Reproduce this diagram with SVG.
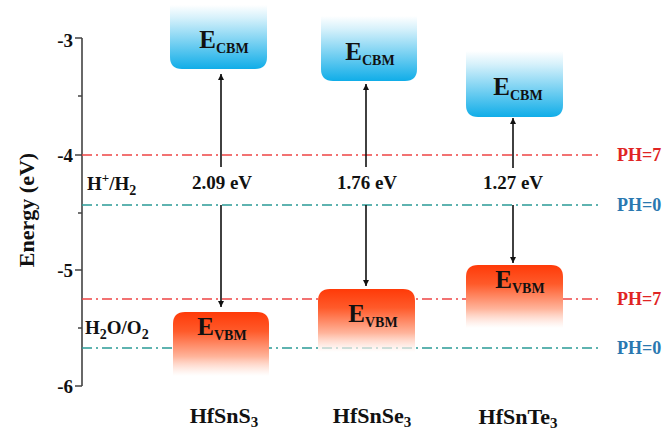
<svg xmlns="http://www.w3.org/2000/svg" width="667" height="434" viewBox="0 0 667 434">
<style>
text{font-family:"Liberation Serif","Times New Roman",serif;font-weight:bold;fill:#111}
.tick{font-size:19px;text-anchor:end}
.lbl{font-size:19px;text-anchor:middle}
.mat{font-size:22px;text-anchor:middle}
.band{font-size:25px;text-anchor:middle}
.sub{font-size:14px}
.red{stroke:#ee4444;stroke-width:1.6;stroke-dasharray:10 4 2 4;fill:none}
.teal{stroke:#2a9a96;stroke-width:1.6;stroke-dasharray:10 4 2 4;fill:none}
.arr{stroke:#111;stroke-width:1.6;fill:none}
</style>
<defs>
<linearGradient id="gc" x1="0" y1="0" x2="0" y2="1">
<stop offset="0" stop-color="#ffffff"/>
<stop offset="0.2" stop-color="#d6f1fb"/>
<stop offset="1" stop-color="#10ade8"/>
</linearGradient>
<linearGradient id="gv" x1="0" y1="0" x2="0" y2="1">
<stop offset="0" stop-color="#ff3a08"/>
<stop offset="0.3" stop-color="#ff5a2a"/>
<stop offset="0.7" stop-color="#ffb59c"/>
<stop offset="1" stop-color="#ffffff" stop-opacity="0.6"/>
</linearGradient>
<marker id="ah" viewBox="0 0 10 10" refX="10" refY="5" markerWidth="6" markerHeight="6" markerUnits="userSpaceOnUse" orient="auto">
<path d="M0,0 L10,5 L0,10 Z" fill="#111"/>
</marker>
</defs>
<rect width="667" height="434" fill="#ffffff"/>

<g id="axis">
<path d="M82,38 V386 M75,38 H82 M75,155 H82 M75,270 H82 M75,386 H82 M78,96 H82 M78,213 H82 M78,328 H82" stroke="#444" stroke-width="1.6" fill="none"/>
<text class="tick" x="73" y="47">-3</text>
<text class="tick" x="73" y="162">-4</text>
<text class="tick" x="73" y="277">-5</text>
<text class="tick" x="73" y="393">-6</text>
<text x="34" y="210" font-size="22" text-anchor="middle" transform="rotate(-90 34 210)">Energy (eV)</text>
</g>

<g id="levels">
<path class="red" d="M82,155 H600"/>
<path class="teal" d="M82,205 H600"/>
<path class="red" d="M82,299 H600"/>
<path class="teal" d="M82,348 H600"/>
<text x="617" y="161" font-size="18" style="fill:#e02424">PH=7</text>
<text x="617" y="211" font-size="18" style="fill:#2a78b0">PH=0</text>
<text x="617" y="305" font-size="18" style="fill:#e02424">PH=7</text>
<text x="617" y="354" font-size="18" style="fill:#2a78b0">PH=0</text>
<text x="87" y="190" font-size="19">H<tspan font-size="13" dy="-8">+</tspan><tspan dy="8">/H</tspan><tspan font-size="14" dy="5">2</tspan></text>
<text x="85" y="334" font-size="19">H<tspan font-size="14" dy="5">2</tspan><tspan dy="-5">O/O</tspan><tspan font-size="14" dy="5">2</tspan></text>
</g>

<g id="cbm1">
<path d="M170,5 H267 V57 Q267,69 255,69 H182 Q170,69 170,57 Z" fill="url(#gc)"/>
<text class="band" x="224" y="48">E<tspan class="sub" dy="5">CBM</tspan></text>
</g>
<g id="cbm2">
<path d="M321,16 H417 V69 Q417,81 405,81 H333 Q321,81 321,69 Z" fill="url(#gc)"/>
<text class="band" x="370" y="60">E<tspan class="sub" dy="5">CBM</tspan></text>
</g>
<g id="cbm3">
<path d="M466,51 H563 V105 Q563,117 551,117 H478 Q466,117 466,105 Z" fill="url(#gc)"/>
<text class="band" x="518" y="95">E<tspan class="sub" dy="5">CBM</tspan></text>
</g>

<g id="vbm1">
<path d="M173,376 V324 Q173,312 185,312 H257 Q269,312 269,324 V376 Z" fill="url(#gv)"/>
<text class="band" x="222" y="335">E<tspan class="sub" dy="5">VBM</tspan></text>
</g>
<g id="vbm2">
<path d="M318,352 V301 Q318,289 330,289 H403 Q415,289 415,301 V352 Z" fill="url(#gv)"/>
<text class="band" x="373" y="322">E<tspan class="sub" dy="5">VBM</tspan></text>
</g>
<g id="vbm3">
<path d="M466,328 V277 Q466,265 478,265 H551 Q563,265 563,277 V328 Z" fill="url(#gv)"/>
<text class="band" x="520" y="288">E<tspan class="sub" dy="5">VBM</tspan></text>
</g>

<g id="connectors">
<path class="arr" d="M221,167 V74" marker-end="url(#ah)"/>
<path class="arr" d="M221,205 V307" marker-end="url(#ah)"/>
<path class="arr" d="M366,167 V84" marker-end="url(#ah)"/>
<path class="arr" d="M366,205 V286" marker-end="url(#ah)"/>
<path class="arr" d="M513,168 V118" marker-end="url(#ah)"/>
<path class="arr" d="M513,205 V263" marker-end="url(#ah)"/>
</g>

<g id="gaps">
<text class="lbl" x="222" y="189">2.09 eV</text>
<text class="lbl" x="367" y="189">1.76 eV</text>
<text class="lbl" x="513" y="189">1.27 eV</text>
</g>

<g id="materials">
<text class="mat" x="224" y="423">HfSnS<tspan dy="4" style="font-size:15px">3</tspan></text>
<text class="mat" x="372" y="423">HfSnSe<tspan dy="4" style="font-size:15px">3</tspan></text>
<text class="mat" x="518" y="424">HfSnTe<tspan dy="4" style="font-size:15px">3</tspan></text>
</g>
</svg>
